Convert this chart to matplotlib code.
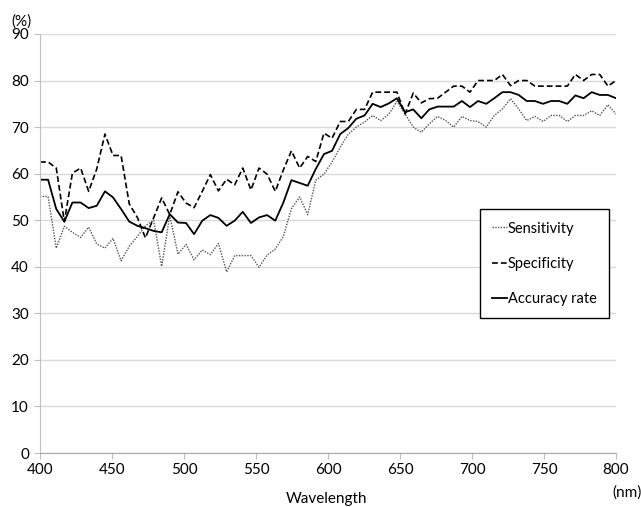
import matplotlib.pyplot as plt

plt.rcParams['font.family'] = ['Lato', 'DejaVu Sans']

# wavelength grid (nm)
wl = [400.0, 405.6, 411.3, 416.9, 422.5, 428.2, 433.8, 439.4, 445.1, 450.7,
      456.3, 462.0, 467.6, 473.2, 478.9, 484.5, 490.1, 495.8, 501.4, 507.0,
      512.7, 518.3, 523.9, 529.6, 535.2, 540.8, 546.5, 552.1, 557.7, 563.4,
      569.0, 574.6, 580.3, 585.9, 591.5, 597.2, 602.8, 608.5, 614.1, 619.7,
      625.4, 631.0, 636.6, 642.3, 647.9, 653.5, 659.2, 664.8, 670.4, 676.1,
      681.7, 687.3, 693.0, 698.6, 704.2, 709.9, 715.5, 721.1, 726.8, 732.4,
      738.0, 743.7, 749.3, 754.9, 760.6, 766.2, 771.8, 777.5, 783.1, 788.7,
      794.4, 800.0]

sensitivity = [55.1, 55.1, 44.0, 48.7, 47.4, 46.3, 48.5, 44.9, 44.0, 46.1,
               41.3, 44.4, 46.5, 48.8, 50.0, 40.1, 51.0, 42.7, 44.8, 41.5,
               43.6, 42.6, 45.0, 38.9, 42.4, 42.4, 42.4, 39.9, 42.5, 43.8,
               46.5, 52.5, 55.0, 51.2, 58.6, 59.9, 62.5, 65.7, 68.5, 70.0,
               71.1, 72.5, 71.4, 72.8, 75.5, 72.8, 70.0, 68.9, 70.7, 72.3,
               71.4, 70.0, 72.3, 71.4, 71.2, 70.0, 72.5, 73.9, 76.1, 73.9,
               71.4, 72.3, 71.2, 72.5, 72.5, 71.2, 72.5, 72.5, 73.5, 72.5,
               74.8, 72.8]

specificity = [62.5, 62.5, 61.2, 49.7, 60.1, 61.2, 56.2, 61.0, 68.5, 63.9,
               63.9, 53.5, 50.6, 46.2, 50.5, 54.8, 51.2, 56.1, 53.7, 52.7,
               56.2, 59.8, 56.3, 58.8, 57.6, 61.2, 56.5, 61.2, 59.9, 56.2,
               60.8, 64.9, 61.2, 63.7, 62.6, 68.7, 67.6, 71.2, 71.2, 73.8,
               73.8, 77.5, 77.5, 77.5, 77.5, 72.8, 77.3, 75.2, 76.1, 76.2,
               77.5, 78.8, 78.8, 77.5, 80.0, 80.0, 80.0, 81.3, 78.9, 80.0,
               80.0, 78.8, 78.8, 78.8, 78.8, 78.8, 81.3, 80.0, 81.3, 81.3,
               78.8, 80.0]

accuracy = [58.7, 58.7, 52.4, 49.7, 53.8, 53.8, 52.6, 53.1, 56.2, 54.9,
            52.4, 49.7, 48.8, 48.3, 47.7, 47.4, 51.3, 49.5, 49.4, 47.0,
            49.9, 51.1, 50.5, 48.8, 49.9, 51.8, 49.4, 50.6, 51.1, 49.9,
            53.8, 58.6, 58.0, 57.4, 61.0, 64.2, 64.9, 68.5, 69.8, 71.8,
            72.5, 75.0, 74.3, 75.1, 76.2, 73.2, 73.8, 71.9, 73.8, 74.4,
            74.4, 74.4, 75.6, 74.3, 75.6, 75.0, 76.2, 77.5, 77.5, 76.9,
            75.6, 75.6, 75.0, 75.6, 75.6, 75.0, 76.8, 76.2, 77.5, 76.9,
            76.9, 76.2]

xticks = [400, 450, 500, 550, 600, 650, 700, 750, 800]
yticks = [0, 10, 20, 30, 40, 50, 60, 70, 80, 90]

fig = plt.figure(figsize=(6.41, 5.07), dpi=100)
ax = fig.add_axes([0.0624, 0.1065, 0.8986, 0.8265])

ax.plot(wl, sensitivity, color='#555555', lw=1.0, ls=(0, (1, 1)), label='Sensitivity')
ax.plot(wl, specificity, color='black', lw=1.2, ls=(0, (3.5, 1.8)), label='Specificity')
ax.plot(wl, accuracy, color='black', lw=1.3, ls='-', label='Accuracy rate')

ax.set_xlim(400, 800)
ax.set_ylim(0, 90)
ax.set_xticks(xticks)
ax.set_yticks(yticks)
ax.grid(axis='y', color='#d9d9d9', lw=1.0)
ax.set_axisbelow(True)
for s in ['top', 'right']:
    ax.spines[s].set_visible(False)
ax.spines['left'].set_color('#bfbfbf')
ax.spines['bottom'].set_color('#a6a6a6')
ax.tick_params(axis='both', labelsize=11, colors='#bfbfbf', labelcolor='black', length=4)
ax.tick_params(axis='y', length=4, pad=4)

fig.text(0.018, 0.957, '(%)', fontsize=11, ha='left', va='center')
fig.text(0.955, 0.028, '(nm)', fontsize=11, ha='left', va='center')
fig.text(0.51, 0.002, 'Wavelength', fontsize=11, ha='center', va='bottom')

leg = ax.legend(loc='upper left', bbox_to_anchor=(0.764, 0.582), fontsize=10.5,
                handlelength=1.0, handletextpad=0.05, labelspacing=1.45,
                borderpad=0.85, borderaxespad=0, fancybox=False, framealpha=1,
                edgecolor='black')
leg.get_frame().set_linewidth(1.0)

fig.savefig('out.png', dpi=100)
